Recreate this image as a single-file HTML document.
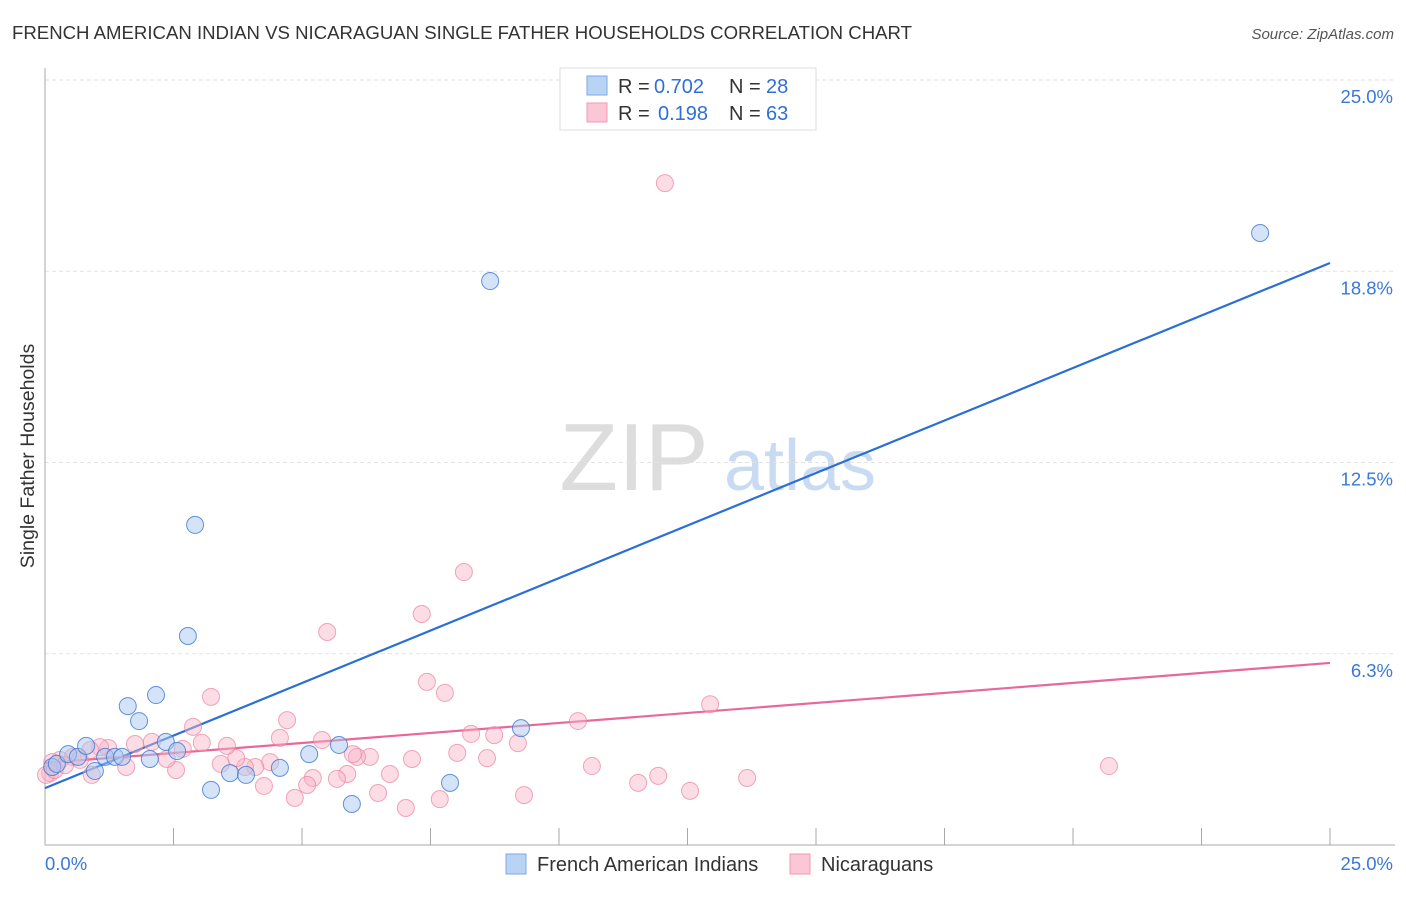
<!DOCTYPE html>
<html><head><meta charset="utf-8"><style>
body{margin:0;background:#fff;font-family:"Liberation Sans",sans-serif}
svg text{font-family:"Liberation Sans",sans-serif}
</style></head><body>
<svg id="chart" width="1406" height="892">
<text x="12" y="39" font-size="18" fill="#333" textLength="900" lengthAdjust="spacingAndGlyphs">FRENCH AMERICAN INDIAN VS NICARAGUAN SINGLE FATHER HOUSEHOLDS CORRELATION CHART</text>
<text x="1394" y="39" font-size="15" fill="#555" text-anchor="end" font-style="italic">Source: ZipAtlas.com</text>
<g>
<text x="634" y="490" font-size="96" fill="#ddd" text-anchor="middle" font-family="Liberation Serif,serif">ZIP</text>
<text x="800" y="490" font-size="72" fill="#c9daf3" text-anchor="middle">atlas</text>
</g>
<g id="grid"></g>
<g id="axes"></g>
<text transform="translate(34,456) rotate(-90)" font-size="19.5" fill="#333" text-anchor="middle">Single Father Households</text>
<g id="lines"></g>
<g id="pts"></g>
<g>
<rect x="560" y="68" width="256" height="62" fill="#fff" stroke="#ddd"/>
<rect x="587" y="76" width="20" height="19" fill="#b9d3f4" stroke="#7aa8e6"/>
<rect x="587" y="103" width="20" height="19" fill="#fbc7d6" stroke="#f09ab4"/>
<text y="93" font-size="20" fill="#333"><tspan x="618">R =</tspan><tspan x="654" fill="#2f6fd6">0.702</tspan><tspan x="729">N =</tspan><tspan x="766" fill="#2f6fd6">28</tspan></text>
<text y="120" font-size="20" fill="#333"><tspan x="618">R =</tspan><tspan x="658" fill="#2f6fd6">0.198</tspan><tspan x="729">N =</tspan><tspan x="766" fill="#2f6fd6">63</tspan></text>
</g>
<g>
<rect x="506" y="854" width="20" height="20" fill="#b9d3f4" stroke="#7aa8e6"/>
<text x="537" y="871" font-size="20" fill="#333">French American Indians</text>
<rect x="790" y="854" width="20" height="20" fill="#fbc7d6" stroke="#f09ab4"/>
<text x="821" y="871" font-size="20" fill="#333">Nicaraguans</text>
</g>
</svg>
<script>
const yTicks=[6.25,12.5,18.75,25];
const yTickLabels=["6.3%","12.5%","18.8%","25.0%"];
const xTickCount=10;
const blueX=[0.14,0.23,0.45,0.64,0.8,0.97,1.17,1.36,1.5,1.61,1.83,2.04,2.16,2.35,2.57,2.78,2.92,3.23,3.6,3.91,4.57,5.14,5.72,5.97,7.88,8.66,9.26,23.64];
const blueY=[2.55,2.65,2.97,2.88,3.24,2.42,2.88,2.88,2.88,4.54,4.05,2.81,4.9,3.37,3.07,6.83,10.46,1.8,2.35,2.29,2.52,2.97,3.27,1.34,2.03,18.43,3.82,20.0];
const pinkX=[7.43,7.78,3.23,2.88,4.71,4.57,5.39,8.29,8.74,9.2,8.02,8.6,7.14,6.32,6.07,5.99,6.71,5.88,5.68,5.21,5.1,6.48,7.68,7.02,9.32,4.86,4.26,4.38,4.09,3.89,3.72,3.54,3.42,3.05,2.68,2.55,2.37,2.08,1.75,1.58,1.23,1.07,0.91,0.54,0.29,0.1,0.14,12.06,8.15,7.33,5.49,12.94,10.37,10.64,11.54,11.93,12.55,13.66,20.7,0.02,0.19,0.39,0.68,0.88];
const pinkY=[5.33,4.97,4.84,3.86,4.08,3.5,3.43,3.63,3.59,3.33,3.01,2.84,2.81,2.88,2.88,2.97,2.32,2.32,2.16,2.19,1.96,1.7,1.5,1.21,1.63,1.54,1.93,2.71,2.55,2.55,2.84,3.24,2.65,3.34,3.14,2.45,2.81,3.37,3.3,2.55,3.17,3.2,2.29,2.88,2.78,2.35,2.71,21.63,8.92,7.55,6.96,4.6,4.05,2.58,2.03,2.26,1.77,2.19,2.58,2.29,2.45,2.61,2.78,3.1];
const blueLine=[1.86,19.02];
const pinkLine=[2.68,5.95];
const NS="http://www.w3.org/2000/svg";
const X=v=>45+v*51.4, Y=v=>845-v*30.6;
function mk(tag,attrs,parent){const e=document.createElementNS(NS,tag);for(const k in attrs)e.setAttribute(k,attrs[k]);document.getElementById(parent).appendChild(e);return e;}
yTicks.forEach((t,i)=>{
 const l=mk('line',{x1:45,x2:1395,y1:Y(t),y2:Y(t),stroke:'#e2e2e2','stroke-dasharray':'4,3'},'grid');
 
 
 const tx=mk('text',{x:1393,y:Y(t)+23,'font-size':18.5,fill:'#3a78d8','text-anchor':'end'},'grid');
 tx.textContent=yTickLabels[i];
 
 
});
let a=mk('line',{x1:45,x2:45,y1:68,y2:845,stroke:'#aaa'},'axes');


a=mk('line',{x1:45,x2:1395,y1:845,y2:845,stroke:'#aaa'},'axes');


for(let i=1;i<=xTickCount;i++){const t=mk('line',{x1:X(i*2.5),x2:X(i*2.5),y1:828,y2:845,stroke:'#aaa'},'axes');
 
 }
let t=mk('text',{x:45,y:870,'font-size':18.5,fill:'#3a78d8'},'axes');t.textContent='0.0%';


t=mk('text',{x:1393,y:870,'font-size':18.5,fill:'#3a78d8','text-anchor':'end'},'axes');t.textContent='25.0%';


pinkX.forEach((x,i)=>{const c=mk('circle',{cx:X(x),cy:Y(pinkY[i]),r:8.5,fill:'rgba(248,180,200,0.45)',stroke:'rgba(235,130,160,0.7)','stroke-width':1},'pts');
 
 });
blueX.forEach((x,i)=>{const c=mk('circle',{cx:X(x),cy:Y(blueY[i]),r:8.5,fill:'rgba(170,200,240,0.5)',stroke:'rgba(60,120,210,0.8)','stroke-width':1},'pts');
 
 });
let l=mk('line',{x1:X(0),y1:Y(blueLine[0]),x2:X(25),y2:Y(blueLine[1]),stroke:'#2a6fd6','stroke-width':2.2},'lines');


l=mk('line',{x1:X(0),y1:Y(pinkLine[0]),x2:X(25),y2:Y(pinkLine[1]),stroke:'#e8689a','stroke-width':2.2},'lines');


</script>
</body></html>
